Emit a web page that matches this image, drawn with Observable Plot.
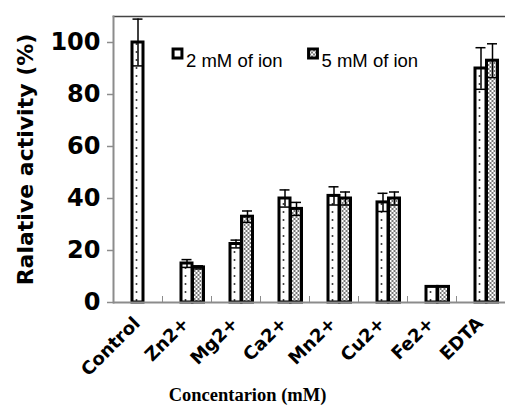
<!DOCTYPE html>
<html>
<head>
<meta charset="utf-8">
<script src="https://cdn.jsdelivr.net/npm/d3@7"></script>
<script src="https://cdn.jsdelivr.net/npm/@observablehq/plot@0.6"></script>
<style>
  html, body { margin: 0; padding: 0; background: #fff; }
  #chart svg { display: block; }
</style>
</head>
<body>
<div id="chart"></div>
<script>
// ---- data ----
const categories = ["Control", "Zn2+", "Mg2+", "Ca2+", "Mn2+", "Cu2+", "Fe2+", "EDTA"];
const seriesNames = ["2 mM of ion", "5 mM of ion"];
const values2mM = [100, 15, 22.5, 40, 41, 38.5, 6, 90];
const errors2mM = [9, 1.5, 1.5, 3.3, 3.5, 3.5, 0, 8];
const values5mM = [null, 13.5, 33, 36, 40, 40, 6, 93];
const errors5mM = [null, 0.6, 2.2, 2.5, 2.5, 2.5, 0, 6.5];
const yTicks = [0, 20, 40, 60, 80, 100];
const yLabel = "Ralative activity (%)";
const xLabel = "Concentarion (mM)";

const rows2 = categories.map((c, i) => ({cat: c, v: values2mM[i], e: errors2mM[i]}));
const rows5 = categories.map((c, i) => ({cat: c, v: values5mM[i], e: errors5mM[i]})).filter(d => d.v != null);
const err2 = rows2.filter(d => d.e > 0);
const err5 = rows5.filter(d => d.e > 0);

const OFF5 = 11.5;   // horizontal offset of the 5 mM bars (overlapping clustered bars)
const BAR_INSET = 19;
const CAP_INSET = 19.5;

const plot = Plot.plot({
  width: 505,
  height: 412,
  marginLeft: 113,
  marginRight: 0,
  marginTop: 16,
  marginBottom: 110,
  style: {background: "#fff", overflow: "visible"},
  x: {type: "band", domain: categories, padding: 0, axis: null},
  y: {domain: [0, 110], axis: null},
  marks: [
    // frame lines
    Plot.frame({anchor: "top", stroke: "#444", strokeWidth: 1.5}),
    Plot.frame({anchor: "left", stroke: "#8c8c8c", strokeWidth: 2}),
    // y axis
    Plot.axisY(yTicks, {
      tickSize: 6, tickPadding: 7, stroke: "#8c8c8c", strokeWidth: 1.5,
      fill: "black", fontSize: 24, fontWeight: "bold", fontFamily: "DejaVu Sans", label: null
    }),
    // bars
    Plot.barY(rows2, {x: "cat", y: "v", fill: "url(#pat2)", stroke: "black", strokeWidth: 3,
      insetLeft: BAR_INSET, insetRight: BAR_INSET}),
    Plot.barY(rows5, {x: "cat", y: "v", dx: OFF5, fill: "url(#pat5)", stroke: "black", strokeWidth: 3,
      insetLeft: BAR_INSET, insetRight: BAR_INSET}),
    // error bars
    Plot.ruleX(err2, {x: "cat", y1: d => d.v - d.e, y2: d => d.v + d.e, stroke: "black", strokeWidth: 1.5}),
    Plot.tickY(err2, {x: "cat", y: d => d.v + d.e, insetLeft: CAP_INSET, insetRight: CAP_INSET, stroke: "black", strokeWidth: 1.5}),
    Plot.tickY(err2, {x: "cat", y: d => d.v - d.e, insetLeft: CAP_INSET, insetRight: CAP_INSET, stroke: "black", strokeWidth: 1.5}),
    Plot.ruleX(err5, {x: "cat", dx: OFF5, y1: d => d.v - d.e, y2: d => d.v + d.e, stroke: "black", strokeWidth: 1.5}),
    Plot.tickY(err5, {x: "cat", dx: OFF5, y: d => d.v + d.e, insetLeft: CAP_INSET, insetRight: CAP_INSET, stroke: "black", strokeWidth: 1.5}),
    Plot.tickY(err5, {x: "cat", dx: OFF5, y: d => d.v - d.e, insetLeft: CAP_INSET, insetRight: CAP_INSET, stroke: "black", strokeWidth: 1.5}),
    // baseline and category separators
    Plot.ruleY([0], {stroke: "#8c8c8c", strokeWidth: 2}),
    Plot.ruleX(categories.slice(1), {x: d => d, dx: -24.5, insetTop: 280, stroke: "#8c8c8c", strokeWidth: 1}),
    // category labels
    Plot.text(categories, {x: d => d, text: d => d, frameAnchor: "bottom", dy: 22, dx: 3, rotate: -45,
      textAnchor: "end", fontSize: 18, fontWeight: "bold", fontFamily: "DejaVu Sans", fill: "black"}),
    // axis titles
    Plot.text([yLabel], {frameAnchor: "left", dx: -88, rotate: -90, textAnchor: "middle", fontSize: 22,
      fontWeight: "bold", fontFamily: "DejaVu Sans", fill: "black"}),
    Plot.text([xLabel], {frameAnchor: "bottom", dx: -62, dy: 98, fontSize: 18.5, fontWeight: "bold",
      fontFamily: "Liberation Serif", fill: "black"}),
    // legend
    ...seriesNames.map((name, i) => [
      Plot.dot([name], {frameAnchor: "top-left", dx: [64, 199.5][i], dy: 37, symbol: "square", r: 5,
        fill: i === 0 ? "white" : "url(#pat5)", stroke: "black", strokeWidth: 3}),
      Plot.text([name], {frameAnchor: "top-left", dx: [72.5, 208][i], dy: 37, textAnchor: "start",
        fontSize: 18.5, fontFamily: "Liberation Sans", fill: "black"})
    ]).flat()
  ]
});

// fill patterns used by the bars
const defs = d3.select(plot).insert("defs", ":first-child");
const p2 = defs.append("pattern").attr("id", "pat2").attr("patternUnits", "userSpaceOnUse")
  .attr("width", 7).attr("height", 8);
p2.append("rect").attr("width", 7).attr("height", 8).attr("fill", "white");
p2.append("circle").attr("cx", 3.5).attr("cy", 4).attr("r", 1).attr("fill", "#333");
const p5 = defs.append("pattern").attr("id", "pat5").attr("patternUnits", "userSpaceOnUse")
  .attr("width", 4).attr("height", 4);
p5.append("rect").attr("width", 4).attr("height", 4).attr("fill", "white");
p5.append("rect").attr("width", 2).attr("height", 2).attr("fill", "#777");
p5.append("rect").attr("x", 2).attr("y", 2).attr("width", 2).attr("height", 2).attr("fill", "#777");

document.getElementById("chart").appendChild(plot);
</script>
</body>
</html>
